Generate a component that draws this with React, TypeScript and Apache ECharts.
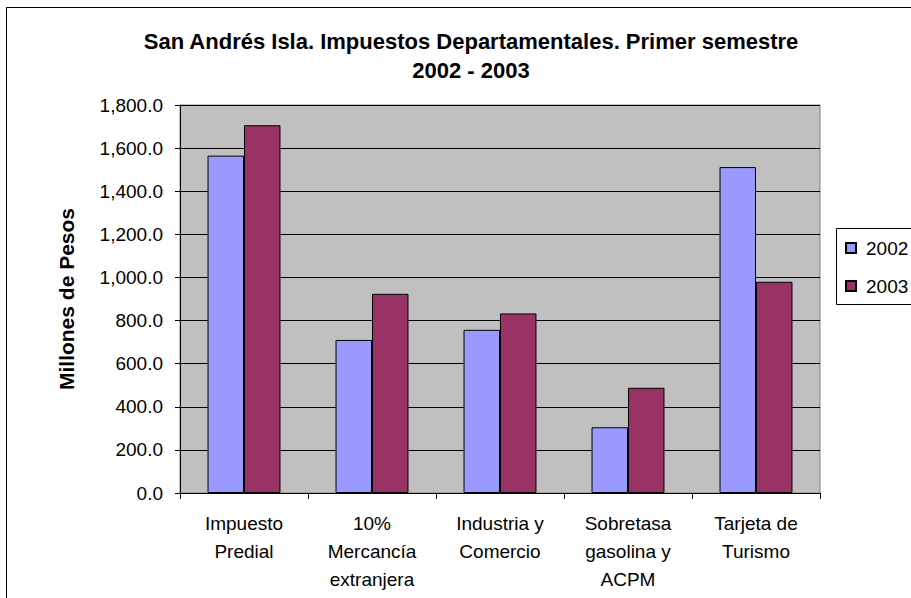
import React, { useEffect, useRef } from "react";
import * as echarts from "echarts";

const categories = [
  "Impuesto\nPredial",
  "10%\nMercancía\nextranjera",
  "Industria y\nComercio",
  "Sobretasa\ngasolina y\nACPM",
  "Tarjeta de\nTurismo",
];
const values2002 = [1565, 710, 757, 305, 1512];
const values2003 = [1706, 924, 833, 488, 980];
const seriesNames = ["2002", "2003"];
const titleText = "San Andrés Isla. Impuestos Departamentales. Primer semestre\n2002 - 2003";
const yAxisName = "Millones de Pesos";

const FONT = "'Liberation Sans', Arial, sans-serif";

export default function App() {
  const ref = useRef<HTMLDivElement>(null);
  useEffect(() => {
    if (!ref.current) return;
    const chart = echarts.init(ref.current, undefined, { renderer: "svg" });
    chart.setOption({
      animation: false,
      backgroundColor: "#ffffff",
      textStyle: { fontFamily: FONT },
      title: {
        text: titleText,
        left: 466,
        textAlign: "center",
        top: 22,
        textStyle: {
          fontFamily: FONT,
          fontSize: 22,
          fontWeight: "bold",
          color: "#000",
          lineHeight: 29,
        },
      },
      graphic: [
        {
          type: "rect",
          shape: { x: 6.5, y: 7.5, width: 1000, height: 1000 },
          style: { fill: "none", stroke: "#000", lineWidth: 1 },
          silent: true,
          z: -1,
        },
        {
          type: "rect",
          shape: { x: 836.5, y: 228.5, width: 200, height: 76 },
          style: { fill: "#fff", stroke: "#000", lineWidth: 1 },
          silent: true,
          z: 0,
        },
      ],
      legend: {
        left: 845,
        top: 238,
        orient: "vertical",
        data: seriesNames,
        icon: "rect",
        itemWidth: 10,
        itemHeight: 10,
        itemGap: 18,
        padding: 0,
        z: 5,
        textStyle: {
          fontFamily: FONT,
          fontSize: 19,
          color: "#000",
          lineHeight: 20,
          padding: [0, 0, 0, 5],
        },
      },
      grid: {
        left: 180,
        top: 105,
        width: 640,
        height: 388,
        show: true,
        backgroundColor: "#C0C0C0",
        borderColor: "#808080",
        borderWidth: 1,
      },
      xAxis: {
        type: "category",
        data: categories,
        axisLine: { lineStyle: { color: "#000", width: 1 } },
        axisTick: { show: true, length: 6, lineStyle: { color: "#000" } },
        axisLabel: {
          fontFamily: FONT,
          fontSize: 19,
          color: "#000",
          lineHeight: 28,
          margin: 16,
          interval: 0,
        },
      },
      yAxis: {
        type: "value",
        min: 0,
        max: 1800,
        interval: 200,
        name: yAxisName,
        nameLocation: "middle",
        nameGap: 103,
        nameRotate: 90,
        nameTextStyle: {
          fontFamily: FONT,
          fontSize: 21,
          fontWeight: "bold",
          color: "#000",
        },
        axisLine: { show: true, lineStyle: { color: "#000", width: 1 } },
        axisTick: { show: true, length: 5, lineStyle: { color: "#000" } },
        splitLine: { show: true, lineStyle: { color: "#000", width: 1 } },
        axisLabel: {
          fontFamily: FONT,
          fontSize: 19,
          color: "#000",
          margin: 17,
          formatter: (v: number) =>
            v.toLocaleString("en-US", { minimumFractionDigits: 1, maximumFractionDigits: 1 }),
        },
      },
      series: [
        {
          name: seriesNames[0],
          type: "bar",
          data: values2002,
          barGap: "0%",
          barCategoryGap: "43%",
          itemStyle: { color: "#9999FF", borderColor: "#000", borderWidth: 1 },
        },
        {
          name: seriesNames[1],
          type: "bar",
          data: values2003,
          barGap: "0%",
          barCategoryGap: "43%",
          itemStyle: { color: "#993366", borderColor: "#000", borderWidth: 1 },
        },
      ],
    });
    return () => chart.dispose();
  }, []);
  return (
    <div
      ref={ref}
      style={{ position: "fixed", left: 0, top: 0, width: 911, height: 598 }}
    />
  );
}
